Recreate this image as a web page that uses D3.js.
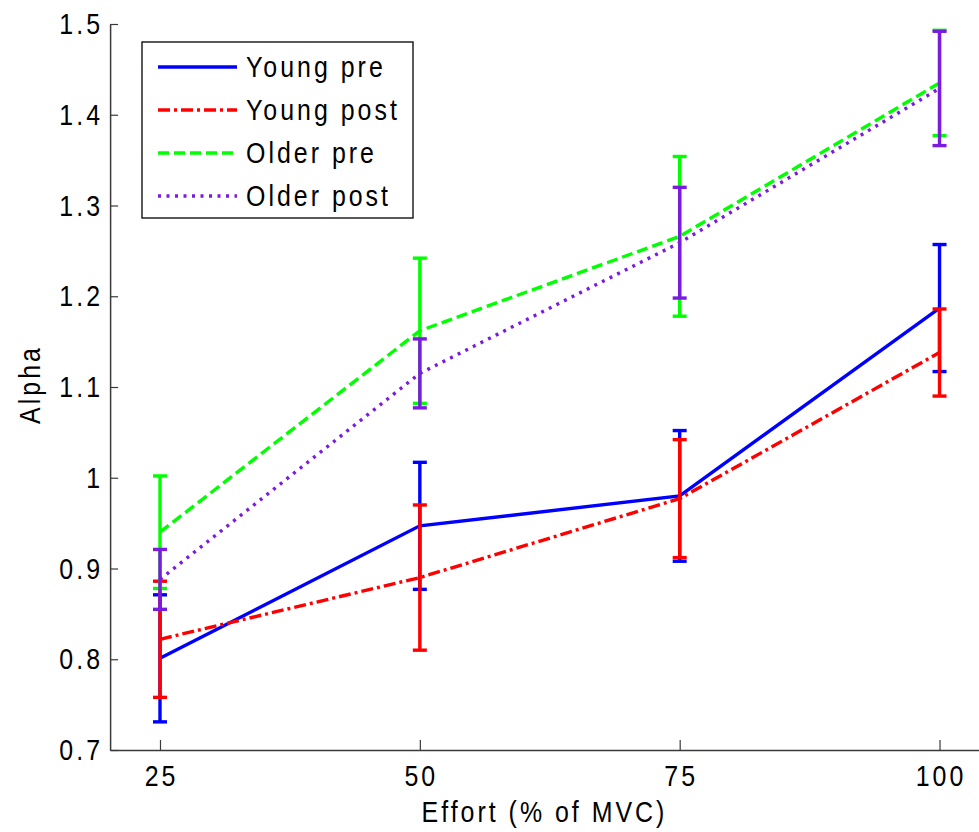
<!DOCTYPE html>
<html>
<head>
<meta charset="utf-8">
<script src="https://cdn.jsdelivr.net/npm/d3@7"></script>
<style>
  html, body { margin: 0; padding: 0; background: #fff; }
  svg { display: block; font-family: "Liberation Sans", Arial, Helvetica, sans-serif; }
</style>
</head>
<body>
<svg id="chart" width="979" height="832"></svg>
<script>
// Effort levels (% of MVC)
const efforts = [25, 50, 75, 100];

// Mean alpha per group and its error half-width
const youngPre   = [0.801, 0.947, 0.980, 1.187];
const youngPreErr  = [0.070, 0.070, 0.072, 0.070];
const youngPost  = [0.822, 0.890, 0.977, 1.138];
const youngPostErr = [0.064, 0.080, 0.065, 0.048];
const olderPre   = [0.940, 1.162, 1.266, 1.435];
const olderPreErr  = [0.062, 0.080, 0.088, 0.058];
const olderPost  = [0.888, 1.115, 1.259, 1.429];
const olderPostErr = [0.033, 0.038, 0.061, 0.063];

const yTicks = [0.7, 0.8, 0.9, 1, 1.1, 1.2, 1.3, 1.4, 1.5];
const xTicks = [25, 50, 75, 100];

const series = [
  { name: "Young pre",  values: youngPre,  err: youngPreErr,  color: "#0000ff", dash: null },
  { name: "Young post", values: youngPost, err: youngPostErr, color: "#ff0000", dash: "12,4,3,4" },
  { name: "Older pre",  values: olderPre,  err: olderPreErr,  color: "#00ff00", dash: "11,5" },
  { name: "Older post", values: olderPost, err: olderPostErr, color: "#7a1be0", dash: "3,5.5" }
];

const svg = d3.select("#chart");
const axisColor = "#3a3a3a";
const fontSize = 29;
const squeeze = 0.86;     // narrow glyphs
const spacing = 3;        // screen px between glyphs

// Narrow, widely spaced text
function label(parent, x, y, str, anchor, extra) {
  const t = parent.append("text")
    .attr("transform", `translate(${x},${y}) ${extra || ""} scale(${squeeze},1)`)
    .attr("font-size", fontSize)
    .attr("letter-spacing", spacing / squeeze)
    .attr("fill", "#000")
    .text(str);
  if (anchor) {
    // compensate trailing letter spacing, then anchor
    const w = t.node().getComputedTextLength() * squeeze - spacing;
    const dx = anchor === "end" ? -w : anchor === "middle" ? -w / 2 : 0;
    t.attr("transform", `translate(${x},${y}) ${extra || ""} translate(${dx},0) scale(${squeeze},1)`);
  }
  return t;
}

const x = d3.scaleLinear().domain([20.2, 105]).range([110.1, 991.5]);
const y = d3.scaleLinear().domain([0.7, 1.5]).range([750, 24]);

// Axes (ticks point inward)
const yAxis = d3.axisLeft(y).tickValues(yTicks).tickSizeInner(-8).tickSizeOuter(0).tickFormat("");
const gy = svg.append("g").attr("transform", `translate(${x(20.2)},0)`).call(yAxis);
gy.select(".domain").attr("stroke", axisColor).attr("stroke-width", 1.5);
gy.selectAll(".tick line").attr("stroke", axisColor).attr("stroke-width", 1.2);
yTicks.forEach(v => label(svg, 100, y(v) + 10, String(v), "end"));

const xAxis = d3.axisBottom(x).tickValues(xTicks).tickSizeInner(-10).tickSizeOuter(0).tickFormat("");
const gx = svg.append("g").attr("transform", `translate(0,${y(0.7)})`).call(xAxis);
gx.select(".domain").attr("stroke", axisColor).attr("stroke-width", 1.5);
gx.selectAll(".tick line").attr("stroke", axisColor).attr("stroke-width", 1.2);
xTicks.forEach(v => label(svg, x(v), 786, String(v), "middle"));

// Axis titles
label(svg, 543, 822, "Effort (% of MVC)", "middle");
label(svg, 40, 386, "Alpha", "middle", "rotate(-90)");

// Lines and error bars
const line = d3.line().x((d, i) => x(efforts[i])).y(d => y(d));
const capHalf = 7;
const lw = 3.4;

series.forEach(s => {
  const g = svg.append("g");
  g.append("path")
    .datum(s.values)
    .attr("d", line)
    .attr("fill", "none")
    .attr("stroke", s.color)
    .attr("stroke-width", lw)
    .attr("stroke-dasharray", s.dash);

  const bars = g.selectAll(".bar").data(s.values.map((v, i) => ({ x: efforts[i], v, e: s.err[i] })))
    .enter().append("g");
  bars.append("line")
    .attr("x1", d => x(d.x)).attr("x2", d => x(d.x))
    .attr("y1", d => y(d.v - d.e)).attr("y2", d => y(d.v + d.e))
    .attr("stroke", s.color).attr("stroke-width", lw);
  [-1, 1].forEach(sign => {
    bars.append("line")
      .attr("x1", d => x(d.x) - capHalf).attr("x2", d => x(d.x) + capHalf)
      .attr("y1", d => y(d.v + sign * d.e)).attr("y2", d => y(d.v + sign * d.e))
      .attr("stroke", s.color).attr("stroke-width", lw);
  });
});

// Legend
const legend = svg.append("g");
legend.append("rect")
  .attr("x", 142).attr("y", 42).attr("width", 271).attr("height", 176)
  .attr("fill", "#fff").attr("stroke", "#000").attr("stroke-width", 1.3);
const rowY = [67, 110, 153, 196];
series.forEach((s, i) => {
  legend.append("line")
    .attr("x1", 158).attr("x2", 237)
    .attr("y1", rowY[i]).attr("y2", rowY[i])
    .attr("stroke", s.color).attr("stroke-width", lw)
    .attr("stroke-dasharray", s.dash);
  label(legend, 246, rowY[i] + 10, s.name);
});
</script>
</body>
</html>
